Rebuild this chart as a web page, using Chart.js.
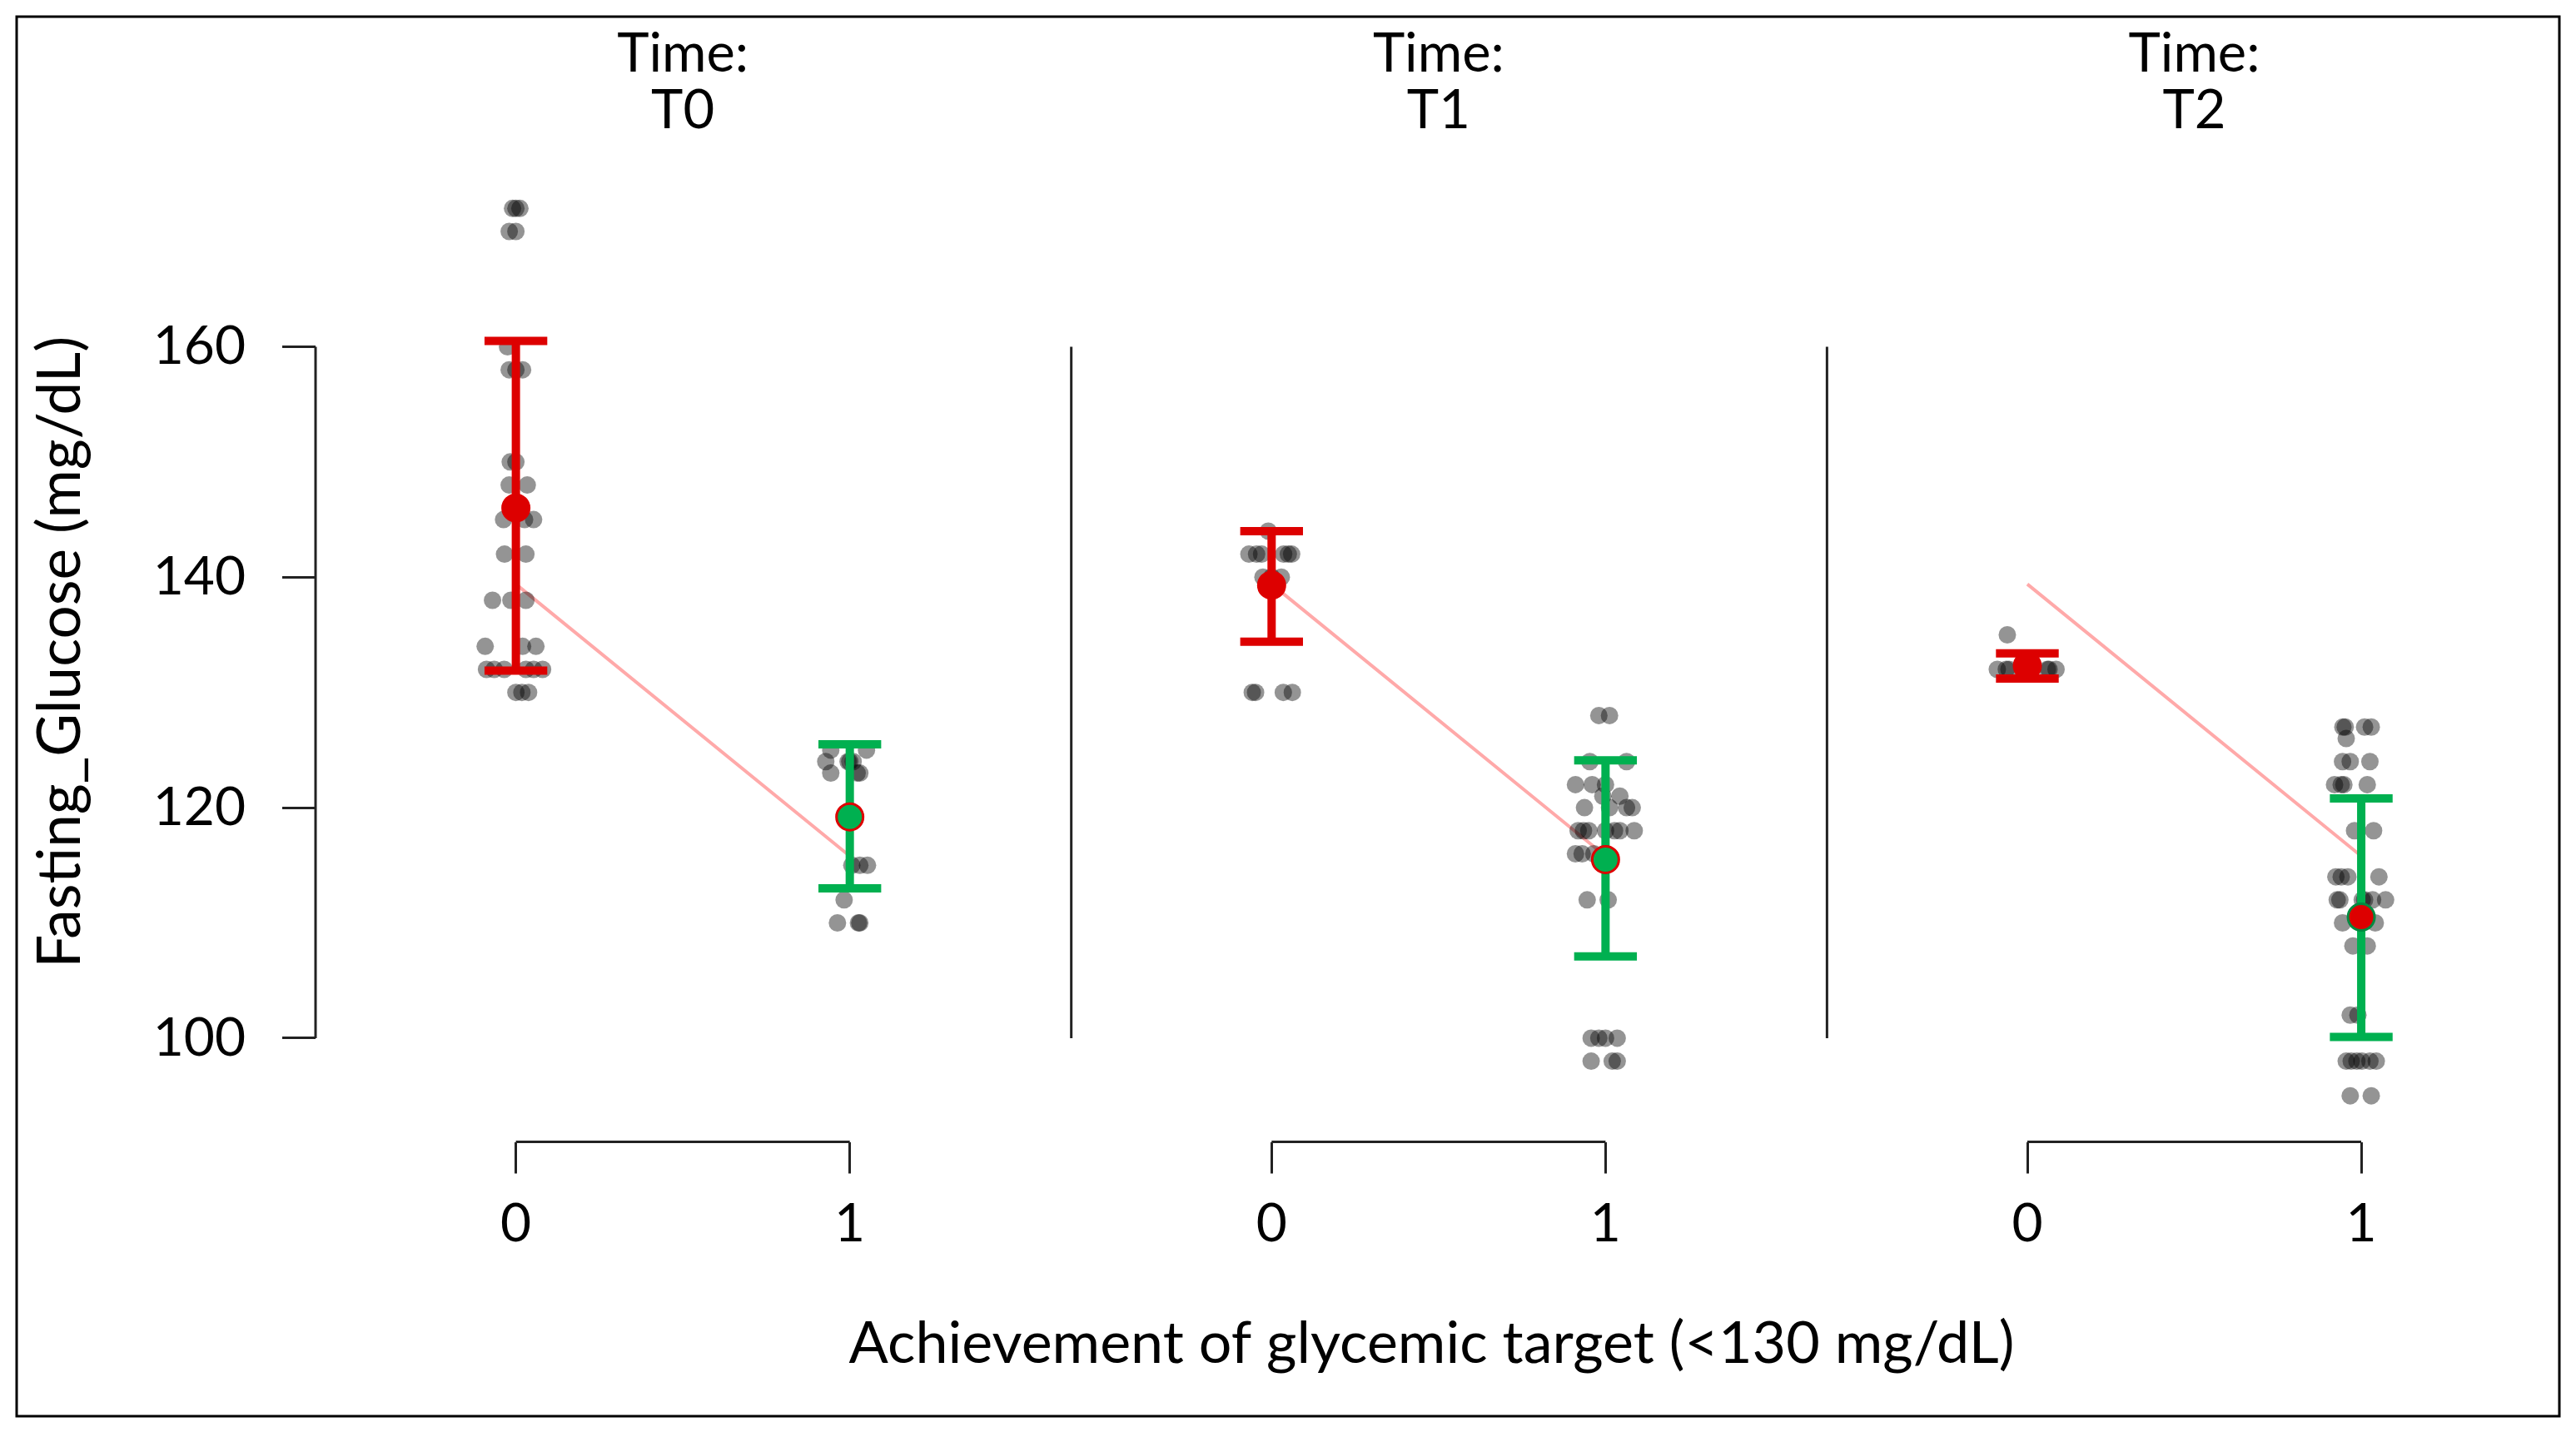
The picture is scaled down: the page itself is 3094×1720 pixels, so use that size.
<!DOCTYPE html>
<html><head><meta charset="utf-8">
<script src="https://cdn.jsdelivr.net/npm/chart.js@4"></script>
<style>html,body{margin:0;padding:0;background:#fff;}canvas{display:block;}</style>
</head><body>
<canvas id="c" width="3094" height="1720" style="width:3094px;height:1720px"></canvas>
<script>
// ---------- data ----------
const timeLabels = ['T0', 'T1', 'T2'];
const panelTitlePrefix = 'Time:';
const groupLabels = ['0', '1'];
const yTickValues = [100, 120, 140, 160];
const yAxisTitle = 'Fasting_Glucose (mg/dL)';
const xAxisTitle = 'Achievement of glycemic target (<130 mg/dL)';

// group means and interval limits per time point: [group 0, group 1]
const meanT0 = [146.0, 119.2];
const meanT1 = [139.3, 115.5];
const meanT2 = [132.3, 110.5];
const lowT0 = [131.9, 113.0];
const lowT1 = [134.4, 107.1];
const lowT2 = [131.2, 100.1];
const highT0 = [160.5, 125.5];
const highT1 = [144.0, 124.1];
const highT2 = [133.4, 120.8];
// fitted trend line (group 0 -> group 1), same in every panel
const trendValues = [139.4, 115.8];

// individual observations (value) with horizontal jitter (in group units)
const t0g0Values = [172,172,172,170,170,160,158,158,158,150,150,148,148,145,145,145,142,142,138,138,138,134,134,134,132,132,132,132,132,132,130,130,130];
const t0g0Jitter = [-0.01,0.0,0.012,-0.02,0.0,-0.025,-0.02,0.0,0.02,-0.017,0.0,-0.02,0.034,-0.037,0.026,0.053,-0.034,0.03,-0.07,-0.015,0.03,-0.092,0.02,0.06,-0.088,-0.065,-0.035,0.03,0.053,0.08,0.0,0.018,0.038];
const t0g1Values = [125,125,124,124,124,124,123,123,123,115,115,115,112,110,110,110];
const t0g1Jitter = [-0.057,0.05,-0.072,-0.005,0.0,0.01,-0.057,0.022,0.03,0.006,0.03,0.053,-0.017,-0.037,0.026,0.03];
const t1g0Values = [144,142,142,142,142,142,142,140,140,140,130,130,130,130];
const t1g0Jitter = [-0.01,-0.068,-0.045,-0.03,0.036,0.05,0.06,-0.026,0.0,0.029,-0.058,-0.048,0.035,0.062];
const t1g1Values = [128,128,124,124,122,122,122,121,121,120,120,120,120,118,118,118,118,118,118,118,116,116,116,112,112,100,100,100,100,98,98,98];
const t1g1Jitter = [-0.02,0.012,-0.047,0.063,-0.09,-0.04,0.0,-0.008,0.043,-0.063,0.012,0.063,0.08,-0.082,-0.066,-0.05,0.0,0.027,0.043,0.086,-0.09,-0.07,-0.035,-0.055,0.008,-0.043,-0.02,0.0,0.035,-0.043,0.02,0.035];
const t2g0Values = [135,132,132,132,132,132,132];
const t2g0Jitter = [-0.06,-0.09,-0.063,-0.055,0.06,0.065,0.086];
const t2g1Values = [127,127,127,127,126,124,124,124,122,122,122,122,118,118,114,114,114,114,112,112,112,112,112,112,110,110,108,108,102,102,98,98,98,98,98,98,95,95];
const t2g1Jitter = [-0.055,-0.048,0.01,0.03,-0.045,-0.056,-0.033,0.026,-0.08,-0.06,-0.052,0.018,-0.02,0.037,-0.076,-0.06,-0.04,0.053,-0.072,-0.064,0.003,0.01,0.034,0.073,-0.056,0.042,-0.025,0.018,-0.033,-0.01,-0.045,-0.03,-0.013,0.002,0.026,0.045,-0.033,0.03];

// ---------- layout / style constants ----------
const PANEL_STEP = 2.2633;   // x distance between panels, in group units
const X_MIN = -0.6, X_MAX = 6.085;
const Y_MIN = 91, Y_MAX = 176;
const CAP = 0.094;
const RED = '#DD0000', GREEN = '#00B050';
const FONT = 'Lato';
Chart.defaults.font.family = FONT;
Chart.defaults.color = '#000';

const means = [meanT0, meanT1, meanT2];
const lows = [lowT0, lowT1, lowT2];
const highs = [highT0, highT1, highT2];
const obs = [[[t0g0Values, t0g0Jitter], [t0g1Values, t0g1Jitter]],
             [[t1g0Values, t1g0Jitter], [t1g1Values, t1g1Jitter]],
             [[t2g0Values, t2g0Jitter], [t2g1Values, t2g1Jitter]]];
const meanFill = [[RED, GREEN], [RED, GREEN], [RED, RED]];
const meanBorder = [[RED, RED], [RED, RED], [RED, '#008a40']];

const gap = {x: NaN, y: null};
const pos = (k, g) => k * PANEL_STEP + g;

const obsData = [];
obs.forEach((panel, k) => panel.forEach(([vals, jit], g) => {
  vals.forEach((v, i) => obsData.push({x: pos(k, g) + jit[i], y: v}));
}));

function errData(g) {
  const d = [];
  timeLabels.forEach((t, k) => {
    const x = pos(k, g), lo = lows[k][g], hi = highs[k][g];
    d.push({x, y: lo}, {x, y: hi}, gap,
           {x: x - CAP, y: hi}, {x: x + CAP, y: hi}, gap,
           {x: x - CAP, y: lo}, {x: x + CAP, y: lo}, gap);
  });
  return d;
}
const trendData = [];
timeLabels.forEach((t, k) => {
  trendData.push({x: pos(k, 0), y: trendValues[0]}, {x: pos(k, 1), y: trendValues[1]}, gap);
});
const meanData = [], mFill = [], mBorder = [];
timeLabels.forEach((t, k) => groupLabels.forEach((g, j) => {
  meanData.push({x: pos(k, j), y: means[k][j]});
  mFill.push(meanFill[k][j]); mBorder.push(meanBorder[k][j]);
}));

const decor = {
  id: 'decor',
  beforeDraw(chart) {
    const c = chart.ctx;
    c.save();
    c.fillStyle = '#fff';
    c.fillRect(0, 0, chart.width, chart.height);
    c.restore();
  },
  afterDraw(chart) {
    const c = chart.ctx, xs = chart.scales.x, ys = chart.scales.y;
    c.save();
    // outer frame
    c.strokeStyle = '#000'; c.lineWidth = 3;
    c.strokeRect(20, 20, 3054, 1681);
    // per-panel y axis lines spanning the tick range
    c.strokeStyle = '#222'; c.lineWidth = 3;
    const yTop = ys.getPixelForValue(yTickValues[yTickValues.length - 1]);
    const yBot = ys.getPixelForValue(yTickValues[0]);
    timeLabels.forEach((t, k) => {
      const xp = xs.getPixelForValue(k * PANEL_STEP + X_MIN);
      c.beginPath(); c.moveTo(xp, yTop); c.lineTo(xp, yBot); c.stroke();
      // x axis bracket between the two groups
      const b = chart.chartArea.bottom;
      c.beginPath(); c.moveTo(xs.getPixelForValue(pos(k, 0)), b);
      c.lineTo(xs.getPixelForValue(pos(k, 1)), b); c.stroke();
    });
    // panel titles
    c.fillStyle = '#000';
    c.font = '65px ' + FONT;
    c.textAlign = 'center'; c.textBaseline = 'alphabetic';
    timeLabels.forEach((t, k) => {
      const xp = xs.getPixelForValue(pos(k, 0.5));
      c.fillText(panelTitlePrefix, xp, 86);
      c.fillText(t, xp, 154);
    });
    c.restore();
  }
};

new Chart(document.getElementById('c'), {
  type: 'scatter',
  data: {
    datasets: [
      {label: 'means', data: meanData, order: 0, pointRadius: 16, pointHoverRadius: 16,
       backgroundColor: mFill, borderColor: mBorder, borderWidth: 3},
      {label: 'ci0', data: errData(0), order: 1, showLine: true, spanGaps: false,
       borderColor: RED, borderWidth: 10, borderCapStyle: 'butt', pointRadius: 0},
      {label: 'ci1', data: errData(1), order: 1, showLine: true, spanGaps: false,
       borderColor: GREEN, borderWidth: 10, borderCapStyle: 'butt', pointRadius: 0},
      {label: 'obs', data: obsData, order: 2, pointRadius: 10.5, pointHoverRadius: 10.5,
       backgroundColor: 'rgba(0,0,0,0.42)', borderWidth: 0},
      {label: 'trend', data: trendData, order: 3, showLine: true, spanGaps: false,
       borderColor: 'rgba(255,160,160,0.9)', borderWidth: 4, pointRadius: 0}
    ]
  },
  options: {
    responsive: false,
    animation: false,
    devicePixelRatio: 1,
    layout: {padding: {top: 195, right: 34, bottom: 0, left: 0}},
    plugins: {legend: {display: false}, tooltip: {enabled: false}},
    scales: {
      x: {
        type: 'linear', min: X_MIN, max: X_MAX,
        afterBuildTicks: s => {
          const t = [];
          timeLabels.forEach((tl, k) => groupLabels.forEach((g, j) => t.push({value: pos(k, j)})));
          s.ticks = t;
        },
        afterFit: s => { s.height = 348.5; },
        ticks: {autoSkip: false, maxRotation: 0, padding: 22, font: {size: 64}, color: '#000',
                callback: (v, i) => groupLabels[i % groupLabels.length]},
        grid: {drawOnChartArea: false, drawTicks: true, tickLength: 38, color: '#222', lineWidth: 3},
        border: {display: false},
        title: {display: true, text: xAxisTitle, font: {size: 70}, color: '#000', padding: {top: 0, bottom: 64}}
      },
      y: {
        type: 'linear', min: Y_MIN, max: Y_MAX,
        afterBuildTicks: s => { s.ticks = yTickValues.map(v => ({value: v})); },
        afterFit: s => { s.width = 379; },
        ticks: {padding: 44, font: {size: 64}, color: '#000'},
        grid: {drawOnChartArea: false, drawTicks: true, tickLength: 40, color: '#222', lineWidth: 3},
        border: {display: false},
        title: {display: true, text: yAxisTitle, font: {size: 71}, color: '#000', padding: {top: 31, bottom: 0}}
      }
    }
  },
  plugins: [decor]
});
</script>
</body></html>
